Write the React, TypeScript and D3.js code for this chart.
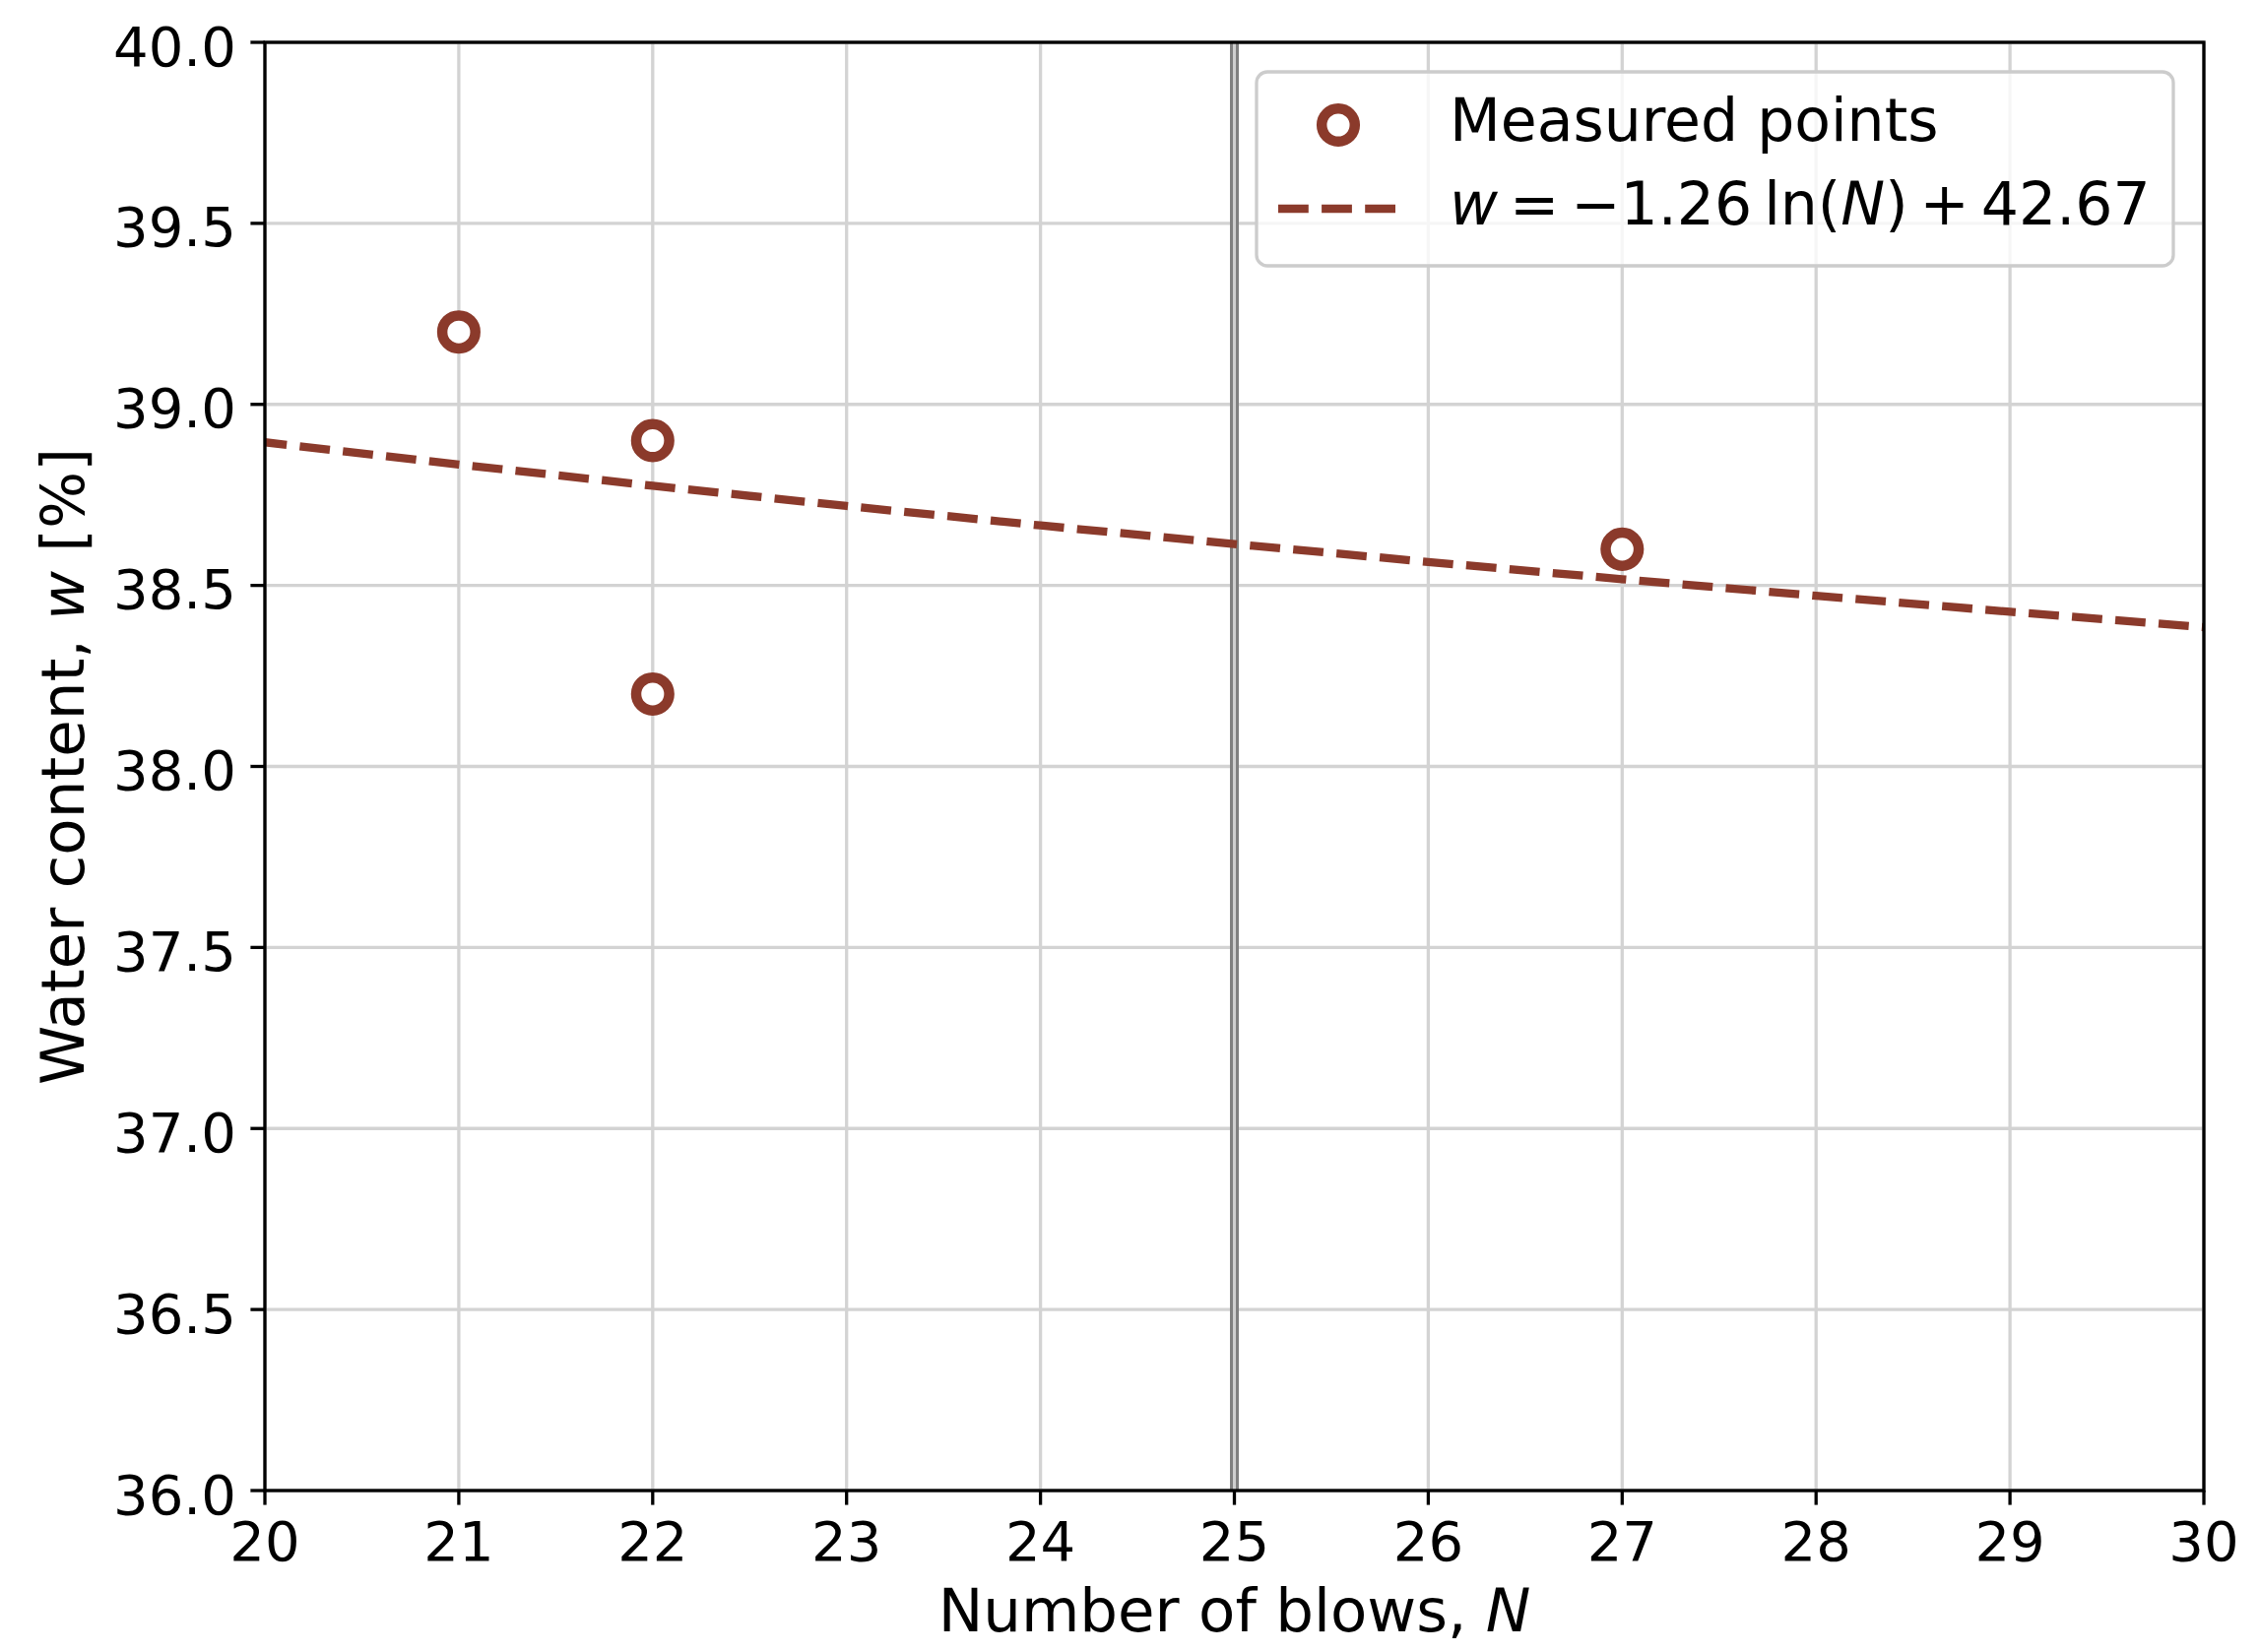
import React, { useEffect, useRef } from "react";
import * as d3 from "d3";

// measured liquid limit test points
const blows = [21, 22, 22, 27];
const waterContent = [39.2, 38.9, 38.2, 38.6];

// fit w = a ln(N) + b, as printed in the legend
const fitA = -1.26;
const fitB = 42.67;
const fitN = [20, 21, 22, 23, 24, 25, 26, 27, 28, 29, 30];

const xTicks = [20, 21, 22, 23, 24, 25, 26, 27, 28, 29, 30];
const yTicks = [36.0, 36.5, 37.0, 37.5, 38.0, 38.5, 39.0, 39.5, 40.0];
const refBlows = 25;

const W = 2295;
const H = 1678;
const FONT = "DejaVu Sans";
const BROWN = "#8b3a2b";

const App: React.FC = () => {
  const svgRef = useRef<SVGSVGElement>(null);

  useEffect(() => {
    if (!svgRef.current) return;
    const svg = d3.select(svgRef.current);
    svg.selectAll("*").remove();

    const left = 269, right = 2238, top = 43, bottom = 1514;

    const x = d3.scaleLinear().domain([20, 30]).range([left, right]);
    const y = d3.scaleLinear().domain([36, 40]).range([bottom, top]);

    svg.append("rect").attr("width", W).attr("height", H).attr("fill", "#fff");

    svg
      .append("defs")
      .append("clipPath")
      .attr("id", "plot")
      .append("rect")
      .attr("x", left)
      .attr("y", top)
      .attr("width", right - left)
      .attr("height", bottom - top);

    // grid
    const grid = svg.append("g").attr("stroke", "#d3d3d3").attr("stroke-width", 3.3);
    grid
      .selectAll("line.gx")
      .data(xTicks)
      .join("line")
      .attr("x1", (d) => x(d))
      .attr("x2", (d) => x(d))
      .attr("y1", top)
      .attr("y2", bottom);
    grid
      .selectAll("line.gy")
      .data(yTicks)
      .join("line")
      .attr("x1", left)
      .attr("x2", right)
      .attr("y1", (d) => y(d))
      .attr("y2", (d) => y(d));

    // reference line at N = 25
    svg
      .append("line")
      .attr("x1", x(refBlows))
      .attr("x2", x(refBlows))
      .attr("y1", top)
      .attr("y2", bottom)
      .attr("stroke", "#808080")
      .attr("stroke-width", 9);
    svg
      .append("line")
      .attr("x1", x(refBlows))
      .attr("x2", x(refBlows))
      .attr("y1", top)
      .attr("y2", bottom)
      .attr("stroke", "#cfcfcf")
      .attr("stroke-width", 3);

    // fitted curve
    const line = d3
      .line<number>()
      .x((n) => x(n))
      .y((n) => y(fitA * Math.log(n) + fitB));
    svg
      .append("path")
      .attr("clip-path", "url(#plot)")
      .attr("d", line(fitN))
      .attr("fill", "none")
      .attr("stroke", BROWN)
      .attr("stroke-width", 8.3)
      .attr("stroke-dasharray", "30.8,13.3")
      .attr("stroke-dashoffset", 8.5);

    // measured points
    svg
      .append("g")
      .selectAll("circle")
      .data(blows.map((n, i) => [n, waterContent[i]]))
      .join("circle")
      .attr("cx", (d) => x(d[0]))
      .attr("cy", (d) => y(d[1]))
      .attr("r", 16.8)
      .attr("fill", "#fff")
      .attr("stroke", BROWN)
      .attr("stroke-width", 10.5);

    // spines
    svg
      .append("rect")
      .attr("x", left)
      .attr("y", top)
      .attr("width", right - left)
      .attr("height", bottom - top)
      .attr("fill", "none")
      .attr("stroke", "#000")
      .attr("stroke-width", 3.3);

    // ticks
    const tickLen = 14.6;
    const ax = svg.append("g").attr("font-family", FONT).attr("font-size", 56);
    xTicks.forEach((t) => {
      ax.append("line")
        .attr("x1", x(t))
        .attr("x2", x(t))
        .attr("y1", bottom)
        .attr("y2", bottom + tickLen)
        .attr("stroke", "#000")
        .attr("stroke-width", 3.3);
      ax.append("text")
        .attr("x", x(t))
        .attr("y", 1585)
        .attr("text-anchor", "middle")
        .text(String(t));
    });
    yTicks.forEach((t) => {
      ax.append("line")
        .attr("x1", left - tickLen)
        .attr("x2", left)
        .attr("y1", y(t))
        .attr("y2", y(t))
        .attr("stroke", "#000")
        .attr("stroke-width", 3.3);
      ax.append("text")
        .attr("x", left - tickLen - 14.6)
        .attr("y", y(t) + 23.5)
        .attr("text-anchor", "end")
        .text(t.toFixed(1));
    });

    // axis labels
    const xl = svg
      .append("text")
      .attr("x", x(25))
      .attr("y", 1657)
      .attr("text-anchor", "middle")
      .attr("font-family", FONT)
      .attr("font-size", 61);
    xl.append("tspan").text("Number of blows, ");
    xl.append("tspan").attr("font-style", "italic").text("N");

    const yl = svg
      .append("text")
      .attr("transform", `translate(85,${(top + bottom) / 2}) rotate(-90)`)
      .attr("text-anchor", "middle")
      .attr("font-family", FONT)
      .attr("font-size", 61);
    yl.append("tspan").text("Water content, ");
    yl.append("tspan").attr("font-style", "italic").text("w");
    yl.append("tspan").text(" [%]");

    // legend
    const lg = svg.append("g");
    lg.append("rect")
      .attr("x", 1276)
      .attr("y", 73)
      .attr("width", 2207 - 1276)
      .attr("height", 270 - 73)
      .attr("rx", 11)
      .attr("fill", "#fff")
      .attr("fill-opacity", 0.8)
      .attr("stroke", "#cccccc")
      .attr("stroke-width", 3.3);
    lg.append("circle")
      .attr("cx", 1359)
      .attr("cy", 127)
      .attr("r", 16.8)
      .attr("fill", "#fff")
      .attr("stroke", BROWN)
      .attr("stroke-width", 10.5);
    lg.append("line")
      .attr("x1", 1298)
      .attr("x2", 1418)
      .attr("y1", 212)
      .attr("y2", 212)
      .attr("stroke", BROWN)
      .attr("stroke-width", 8.3)
      .attr("stroke-dasharray", "30.8,13.3");
    lg.append("text")
      .attr("x", 1472)
      .attr("y", 143)
      .attr("font-family", FONT)
      .attr("font-size", 60)
      .text("Measured points");
    const eq = lg
      .append("text")
      .attr("x", 1472)
      .attr("y", 228)
      .attr("font-family", FONT)
      .attr("font-size", 60)
      .attr("xml:space", "preserve");
    eq.append("tspan").attr("font-style", "italic").text("w");
    eq.append("tspan").text("\u2009=\u2009\u22121.26\u2009ln(");
    eq.append("tspan").attr("font-style", "italic").text("N");
    eq.append("tspan").text(")\u2009+\u200942.67");
  }, []);

  return (
    <svg
      ref={svgRef}
      width={W}
      height={H}
      style={{ position: "absolute", left: 0, top: 0 }}
    />
  );
};

export default App;
